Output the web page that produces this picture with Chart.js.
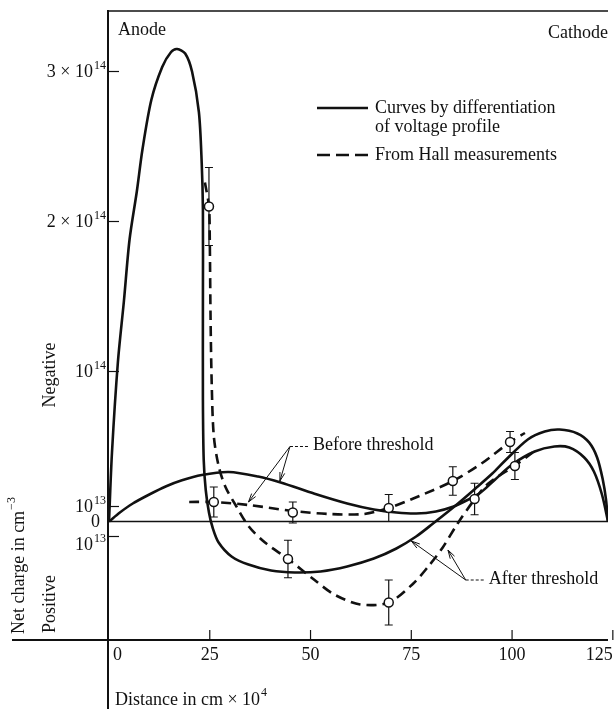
<!DOCTYPE html>
<html>
<head>
<meta charset="utf-8">
<title>Net charge profile</title>
<script src="https://cdn.jsdelivr.net/npm/chart.js@4.4.0/dist/chart.umd.min.js"></script>
<style>
  html, body { margin: 0; padding: 0; background: #fff; overflow: hidden; }
  #wrap { width: 614px; height: 709px; }
</style>
</head>
<body>
<div id="wrap"><canvas id="chargeChart"></canvas></div>
<script>
// distance in cm x 10^4, net charge in units of 10^13 cm^-3 (negative charge plotted up)
const distTicks = [0, 25, 50, 75, 100, 125];
const chargeTicks = [30, 20, 10, 1, 0, -1];
const chargeTickLabels = [['3 × 10', '14'], ['2 × 10', '14'], ['10', '14'], ['10', '13'], ['0', ''], ['10', '13']];

// solid: differentiation of voltage profile, after threshold (anode peak)
const diffAfterX = [0, 0.74, 2.2, 3.7, 5.1, 6.9, 8.3, 10.5, 13.2, 15.4, 16.9, 18.9, 20.6, 22.3, 23.0, 23.3, 23.3, 23.3, 23.5, 24.0, 24.8, 25.7, 27.2, 30.4, 34.6, 40.2, 46.1, 52.5, 59.1, 65.7, 71.3, 76.2, 80.4, 86.0, 90.9, 95.1, 98.3, 103.9, 108.1, 111.8, 116.2, 119.1, 121.1, 122.5, 123.3, 123.8];
const diffAfterY = [0, 4.6, 10.6, 14.7, 18.8, 22.0, 24.8, 28.1, 30.3, 31.3, 31.5, 31.2, 30.0, 27.3, 23.9, 20.8, 14.8, 8.1, 4.1, 2.1, 0.6, -0.4, -1.4, -2.33, -2.87, -3.27, -3.4, -3.33, -3.0, -2.47, -1.8, -1.0, -0.13, 1.07, 2.2, 3.2, 4.07, 5.47, 6.0, 6.13, 5.87, 5.27, 4.27, 2.8, 1.47, 0];

// solid: differentiation of voltage profile, before threshold
const diffBeforeX = [0, 2.7, 5.9, 10.0, 14.2, 18.1, 23.0, 29.7, 37.0, 42.6, 51.0, 59.1, 65.7, 71.3, 76.2, 81.1, 85.5, 89.2, 92.2, 95.8, 100.0, 105.6, 110.5, 114.2, 117.9, 120.3, 122.3, 123.8];
const diffBeforeY = [0, 0.6, 1.2, 1.8, 2.35, 2.75, 3.1, 3.3, 3.0, 2.6, 1.85, 1.2, 0.8, 0.6, 0.53, 0.67, 1.0, 1.47, 1.93, 2.8, 3.8, 4.67, 5.0, 4.93, 4.27, 3.33, 1.8, 0];

// dashed: Hall measurements, before threshold
const hallBeforeCurveX = [19.9, 26.0, 34.6, 45.6, 54.9, 63.2, 69.4, 77.0, 85.3, 92.6, 99.5, 103.2];
const hallBeforeCurveY = [1.3, 1.3, 1.1, 0.7, 0.5, 0.5, 0.9, 1.7, 2.7, 3.9, 5.3, 5.9];

// dashed: Hall measurements, after threshold
const hallAfterCurveX = [23.8, 24.8, 25.0, 25.2, 25.5, 26.0, 27.2, 28.9, 31.4, 34.6, 38.7, 44.4, 51.0, 55.9, 62.3, 69.4, 75.5, 79.2, 82.8, 86.5, 90.7, 94.1, 100.7, 105.1];
const hallAfterCurveY = [22.6, 21.0, 18.8, 13.5, 9.0, 5.7, 3.7, 2.3, 1.1, -0.3, -1.4, -2.5, -3.9, -4.87, -5.53, -5.4, -4.13, -3.0, -1.73, -0.13, 1.47, 2.53, 3.73, 4.6];

// measured points with error bars
const hallBeforeX = [26.0, 45.6, 69.4, 85.3, 99.5];
const hallBeforeY = [1.3, 0.6, 0.9, 2.7, 5.3];
const hallBeforeErr = [1.0, 0.7, 0.9, 0.95, 0.7];
const hallAfterX = [24.8, 44.4, 69.4, 90.7, 100.7];
const hallAfterY = [21.0, -2.5, -5.4, 1.5, 3.7];
const hallAfterErr = [2.6, 1.25, 1.5, 1.05, 0.9];

// annotation anchors (data units)
const beforeNote = { x: 44.9, y: 5.0, to: [[42.4, 2.7], [34.6, 1.3]] };
const afterNote = { x: 88.5, y: -3.9, to: [[75.0, -1.3], [84.1, -1.9]] };

const FONT = '"Liberation Serif", "Times New Roman", serif';

function toXY(xs, ys) {
  return xs.map((v, i) => ({ x: v, y: ys[i] }));
}

function curve(xs, ys, dash) {
  return {
    data: toXY(xs, ys),
    showLine: true,
    borderColor: '#111',
    borderWidth: 2.6,
    borderDash: dash,
    tension: 0.3,
    pointRadius: 0,
    pointHoverRadius: 0,
    fill: false
  };
}

function points(xs, ys) {
  return {
    data: toXY(xs, ys),
    showLine: false,
    pointRadius: 4.5,
    pointBackgroundColor: '#fff',
    pointBorderColor: '#111',
    pointBorderWidth: 1.5
  };
}

// text with a raised exponent
function supText(ctx, base, sup, x, y, size, align) {
  const small = Math.round(size * 0.68);
  ctx.font = size + 'px ' + FONT;
  const bw = ctx.measureText(base).width;
  ctx.font = small + 'px ' + FONT;
  const sw = sup ? ctx.measureText(sup).width + 1 : 0;
  let left = x;
  if (align === 'right') left = x - bw - sw;
  if (align === 'center') left = x - (bw + sw) / 2;
  ctx.textAlign = 'left';
  ctx.textBaseline = 'middle';
  ctx.font = size + 'px ' + FONT;
  ctx.fillText(base, left, y);
  if (sup) {
    ctx.font = small + 'px ' + FONT;
    ctx.fillText(sup, left + bw + 1, y - size * 0.38);
  }
}

function arrow(ctx, x0, y0, x1, y1) {
  ctx.beginPath();
  ctx.moveTo(x0, y0);
  ctx.lineTo(x1, y1);
  ctx.stroke();
  const a = Math.atan2(y1 - y0, x1 - x0);
  ctx.beginPath();
  ctx.moveTo(x1 - 9 * Math.cos(a - 0.28), y1 - 9 * Math.sin(a - 0.28));
  ctx.lineTo(x1, y1);
  ctx.lineTo(x1 - 9 * Math.cos(a + 0.28), y1 - 9 * Math.sin(a + 0.28));
  ctx.stroke();
}

function note(ctx, x, y, n, label) {
  const ax = x.getPixelForValue(n.x), ay = y.getPixelForValue(n.y);
  ctx.lineWidth = 1;
  n.to.forEach(t => arrow(ctx, ax, ay, x.getPixelForValue(t[0]), y.getPixelForValue(t[1])));
  ctx.save();
  ctx.setLineDash([3, 2]);
  ctx.beginPath();
  ctx.moveTo(ax, ay);
  ctx.lineTo(ax + 20, ay);
  ctx.stroke();
  ctx.restore();
  ctx.font = '18px ' + FONT;
  ctx.textAlign = 'left';
  ctx.textBaseline = 'middle';
  ctx.fillText(label, ax + 23, ay - 1);
}

const decor = {
  id: 'decor',
  beforeDatasetsDraw(chart) {
    const { ctx, scales: { x, y } } = chart;
    ctx.save();
    ctx.strokeStyle = '#111';
    ctx.lineWidth = 1.5;
    const y0 = y.getPixelForValue(0);
    ctx.beginPath();
    ctx.moveTo(x.left, y0);
    ctx.lineTo(x.right, y0);
    ctx.stroke();
    ctx.lineWidth = 1.2;
    [[hallBeforeX, hallBeforeY, hallBeforeErr], [hallAfterX, hallAfterY, hallAfterErr]].forEach(([xs, ys, es]) => {
      xs.forEach((v, i) => {
        const px = x.getPixelForValue(v);
        const top = y.getPixelForValue(ys[i] + es[i]);
        const bot = y.getPixelForValue(ys[i] - es[i]);
        ctx.beginPath();
        ctx.moveTo(px, top); ctx.lineTo(px, bot);
        ctx.moveTo(px - 4, top); ctx.lineTo(px + 4, top);
        ctx.moveTo(px - 4, bot); ctx.lineTo(px + 4, bot);
        ctx.stroke();
      });
    });
    ctx.restore();
  },
  afterDraw(chart) {
    const { ctx, scales: { x, y }, width, height } = chart;
    ctx.save();
    ctx.strokeStyle = '#111';
    ctx.fillStyle = '#111';

    // frame: left axis runs to the bottom, x axis runs out to the left
    ctx.lineWidth = 2;
    ctx.beginPath();
    ctx.moveTo(x.left - 1, y.top);
    ctx.lineTo(x.left - 1, height);
    ctx.moveTo(12, y.bottom);
    ctx.lineTo(x.right, y.bottom);
    ctx.stroke();
    ctx.lineWidth = 1.5;
    ctx.beginPath();
    ctx.moveTo(x.left, y.top + 1);
    ctx.lineTo(x.right, y.top + 1);
    ctx.stroke();

    // inward ticks
    ctx.lineWidth = 1.2;
    chargeTicks.forEach(v => {
      if (v === 0) return;
      const py = y.getPixelForValue(v);
      ctx.beginPath();
      ctx.moveTo(x.left, py);
      ctx.lineTo(x.left + 10, py);
      ctx.stroke();
    });
    distTicks.forEach(v => {
      if (v === 0) return;
      const px = x.getPixelForValue(v);
      ctx.beginPath();
      ctx.moveTo(px, y.bottom);
      ctx.lineTo(px, y.bottom - 10);
      ctx.stroke();
    });

    // y tick labels
    chargeTicks.forEach((v, i) => {
      const py = y.getPixelForValue(v) + (v < 0 ? 9 : 1);
      const lab = chargeTickLabels[i];
      const right = v === 0 ? 100 : 106;
      supText(ctx, lab[0], lab[1], right, py, 18, 'right');
    });

    // x tick labels, end labels kept inside
    ctx.font = '18px ' + FONT;
    ctx.textBaseline = 'middle';
    distTicks.forEach((v, i) => {
      let px = x.getPixelForValue(v);
      ctx.textAlign = 'center';
      if (i === 0) { ctx.textAlign = 'left'; px += 4; }
      if (i === distTicks.length - 1) { ctx.textAlign = 'right'; px = Math.min(px, width - 1); }
      ctx.fillText(String(v), px, y.bottom + 15);
    });
    supText(ctx, 'Distance in cm × 10', '4', x.left + 6, 700, 18, 'left');

    // rotated y titles
    ctx.save();
    ctx.translate(50, 375);
    ctx.rotate(-Math.PI / 2);
    supText(ctx, 'Negative', '', 0, 0, 18, 'center');
    ctx.restore();
    ctx.save();
    ctx.translate(50, 633);
    ctx.rotate(-Math.PI / 2);
    supText(ctx, 'Positive', '', 0, 0, 18, 'left');
    ctx.restore();
    ctx.save();
    ctx.translate(19, 634);
    ctx.rotate(-Math.PI / 2);
    supText(ctx, 'Net charge in cm', '−3', 0, 0, 18, 'left');
    ctx.restore();

    // electrode names
    ctx.font = '18px ' + FONT;
    ctx.textBaseline = 'middle';
    ctx.textAlign = 'left';
    ctx.fillText('Anode', x.left + 9, 30);
    ctx.textAlign = 'right';
    ctx.fillText('Cathode', width - 6, 33);

    // legend
    ctx.lineWidth = 2.6;
    ctx.beginPath();
    ctx.moveTo(317, 108);
    ctx.lineTo(368, 108);
    ctx.stroke();
    ctx.save();
    ctx.setLineDash([13, 6]);
    ctx.beginPath();
    ctx.moveTo(317, 155);
    ctx.lineTo(368, 155);
    ctx.stroke();
    ctx.restore();
    ctx.textAlign = 'left';
    ctx.fillText('Curves by differentiation', 375, 108);
    ctx.fillText('of voltage profile', 375, 127);
    ctx.fillText('From Hall measurements', 375, 155);

    // threshold notes
    note(ctx, x, y, beforeNote, 'Before threshold');
    note(ctx, x, y, afterNote, 'After threshold');
    ctx.restore();
  }
};

new Chart(document.getElementById('chargeChart'), {
  type: 'scatter',
  data: {
    datasets: [
      points(hallAfterX, hallAfterY),
      points(hallBeforeX, hallBeforeY),
      curve(diffAfterX, diffAfterY, []),
      curve(diffBeforeX, diffBeforeY, []),
      curve(hallAfterCurveX, hallAfterCurveY, [10, 6]),
      curve(hallBeforeCurveX, hallBeforeCurveY, [10, 6])
    ]
  },
  options: {
    responsive: true,
    maintainAspectRatio: false,
    animation: false,
    layout: { padding: { left: 109, right: 0, top: 10, bottom: 69 } },
    plugins: { legend: { display: false }, tooltip: { enabled: false } },
    scales: {
      x: { type: 'linear', min: 0, max: 123.8, display: false },
      y: { type: 'linear', min: -7.9, max: 34.1, display: false }
    }
  },
  plugins: [decor]
});
</script>
</body>
</html>
